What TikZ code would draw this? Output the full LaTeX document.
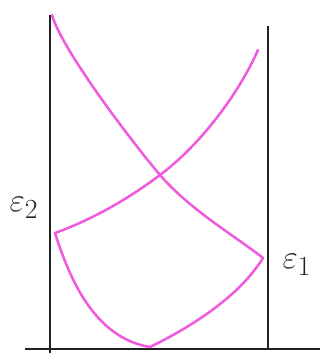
\documentclass[tikz,border=0pt]{standalone}
\usepackage{amsmath,amssymb}
\usepackage{tikz}
\usetikzlibrary{positioning}
\definecolor{penPink}{HTML}{F05ADC}
\definecolor{penBlack}{HTML}{222222}
\tikzset{
  % Axes drawn in black pen.
  sk/axis/.style={draw=penBlack, line width=1.4pt},
  % Energy curves, pink marker.
  sk/curve/.style={draw=penPink, line width=1.9pt, line cap=round, line join=round},
  % Level labels.
  sk/label/.style={font=\Huge, text=penBlack, inner sep=1pt},
}
\begin{document}
\begin{tikzpicture}[x=0.75pt,y=-0.75pt]
  \useasboundingbox (0,0) rectangle (320,360);
  % frame
  \coordinate (lt) at (50,15);  \coordinate (lb) at (50,353);
  \coordinate (rt) at (268,26); \coordinate (rb) at (268,349);
  \coordinate (bl) at (25,349); \coordinate (br) at (320,349);
  \draw[sk/axis] (lt) -- (lb);
  \draw[sk/axis] (rt) -- (rb);
  \draw[sk/axis] (bl) -- (br);
  % key points
  \coordinate (e2) at (55,233);
  \coordinate (e1) at (263,258);
  \coordinate (bot) at (150,347);
  \coordinate (cross) at (160,175);
  % crossing curves
  \draw[sk/curve] (52,15) .. controls (62,50) and (132,142) .. (cross)
                  .. controls (190,210) and (238,238) .. (e1);
  \draw[sk/curve] (258,50) .. controls (238,95) and (200,145) .. (cross)
                  .. controls (120,205) and (85,222) .. (e2);
  % lower curve
  \draw[sk/curve] (e2) .. controls (70,280) and (95,338) .. (bot)
                  .. controls (195,325) and (240,295) .. (e1);
  % labels
  \node[sk/label] (le2) at (24,208) {$\varepsilon_2$};
  \node[sk/label] (le1) at (297,265) {$\varepsilon_1$};
\end{tikzpicture}
\end{document}
